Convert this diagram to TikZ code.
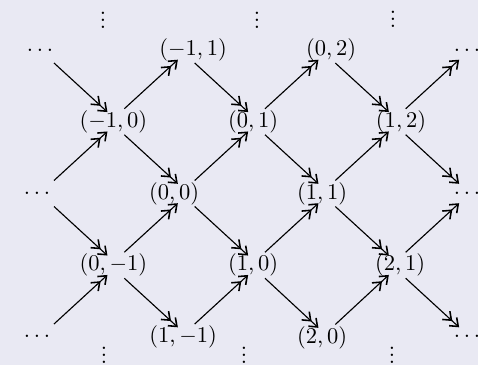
\documentclass[tikz,border=0pt]{standalone}
\usetikzlibrary{arrows.meta}
\definecolor{bg}{RGB}{233,233,243}
\newcommand{\myvdots}{\vbox{\baselineskip3pt\lineskiplimit-10pt\hbox{.}\hbox{.}\hbox{.}}}
% text centred #1/2 to the right of the node centre
\newcommand{\off}[2]{\makebox[0pt][c]{\hspace*{#1}#2}}
% arrows going up-right and down-right between named nodes
\newcommand{\uparr}[2]{\draw[arr] ([shift={(11,-13)}]#1.center) -- ([shift={(-10,13.5)}]#2.center);}
\newcommand{\dnarr}[2]{\draw[arr] ([shift={(11,13)}]#1.center) -- ([shift={(-10,-13.5)}]#2.center);}
\begin{document}
\begin{tikzpicture}[x=0.4444pt,y=-0.4444pt,
  lbl/.style={text height=7.5pt,text depth=2.5pt,inner sep=0pt},
  dts/.style={inner sep=0pt},
  vd/.style={inner sep=0pt},
  arr/.style={-{Straight Barb[length=3.2pt,width=5pt,line width=0.7pt]Straight Barb[length=3.2pt,width=5pt,line width=0.7pt,sep=-2.5pt]},
    line width=0.5pt}]
\fill[bg] (0,0) rectangle (478,365);
\useasboundingbox (0,0) rectangle (478,365);
% vertical dots
\node[vd] (vt1) at (103,20.5) {\myvdots};
\node[vd] (vt2) at (257,20.5) {\myvdots};
\node[vd] (vt3) at (393,19.5) {\myvdots};
\node[vd] (vb1) at (104,355.5) {\myvdots};
\node[vd] (vb2) at (244,355.5) {\myvdots};
\node[vd] (vb3) at (392,355.5) {\myvdots};
% row A  (y = 50)
\node[dts] (dA0) at (43,50) {\off{-2.7pt}{\raisebox{-0.9pt}{$\ldots$}}};
\node[lbl] (m11) at (183.7,50) {\off{8.3pt}{$(-1,1)$}};
\node[lbl] (p02) at (324.3,50) {\off{6pt}{$(0,2)$}};
\node[dts] (dA1) at (465,50) {\off{1.8pt}{\raisebox{-0.9pt}{$\ldots$}}};
% row B  (y = 121.75)
\node[lbl] (m10) at (113.3,121.75) {\off{0pt}{$(-1,0)$}};
\node[lbl] (p01) at (254,121.75) {\off{-0.8pt}{$(0,1)$}};
\node[lbl] (p12) at (394.7,121.75) {\off{5.6pt}{$(1,2)$}};
% row C  (y = 193.5)
\node[dts] (dC0) at (43,193.5) {\off{-5.3pt}{\raisebox{0.6pt}{$\ldots$}}};
\node[lbl] (p00) at (183.7,193.5) {\off{-8.6pt}{$(0,0)$}};
\node[lbl] (p11) at (324.3,193.5) {\off{-2pt}{$(1,1)$}};
\node[dts] (dC1) at (465,193.5) {\off{1.8pt}{\raisebox{0.6pt}{$\ldots$}}};
% row D  (y = 265.25)
\node[lbl] (p0m1) at (113.3,265.25) {\off{0pt}{$(0,-1)$}};
\node[lbl] (p10) at (254,265.25) {\off{-0.8pt}{$(1,0)$}};
\node[lbl] (p21) at (394.7,265.25) {\off{4.8pt}{$(2,1)$}};
% row E  (y = 337)
\node[dts] (dE0) at (43,337) {\off{-5.3pt}{\raisebox{0.4pt}{$\ldots$}}};
\node[lbl] (p1m1) at (183.7,337) {\off{-0.6pt}{$(1,-1)$}};
\node[lbl] (p20) at (324.3,337.5) {\off{-2pt}{$(2,0)$}};
\node[dts] (dE1) at (465,337) {\off{1.8pt}{\raisebox{0.4pt}{$\ldots$}}};
% arrows
\dnarr{dA0}{m10}
\uparr{dC0}{m10}
\dnarr{dC0}{p0m1}
\uparr{dE0}{p0m1}
\uparr{m10}{m11}
\dnarr{m10}{p00}
\uparr{p0m1}{p00}
\dnarr{p0m1}{p1m1}
\dnarr{m11}{p01}
\uparr{p00}{p01}
\dnarr{p00}{p10}
\uparr{p1m1}{p10}
\uparr{p01}{p02}
\dnarr{p01}{p11}
\uparr{p10}{p11}
\dnarr{p10}{p20}
\dnarr{p02}{p12}
\uparr{p11}{p12}
\dnarr{p11}{p21}
\uparr{p20}{p21}
\uparr{p12}{dA1}
\dnarr{p12}{dC1}
\uparr{p21}{dC1}
\dnarr{p21}{dE1}
\end{tikzpicture}
\end{document}
